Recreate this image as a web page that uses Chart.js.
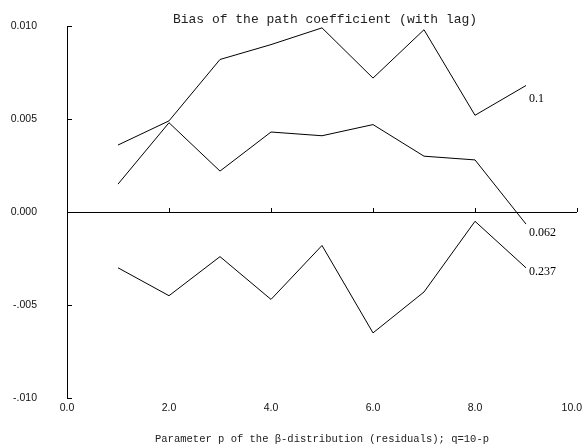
<!DOCTYPE html>
<html lang="en">
<head>
  <meta charset="UTF-8"/>
  <title>Bias of the path coefficient (with lag)</title>
  <script src="https://cdn.jsdelivr.net/npm/chart.js"></script>
  <style>
    body {
      margin: 0;
      background: #fff;
    }
    .wrap {
      width: 584px;
      height: 448px;
      position: relative;
    }
  </style>
</head>
<body>
  <div class="wrap"><canvas id="biasChart"></canvas></div>

  <script>
    // x positions (parameter p)
    const pValues = [1, 2, 3, 4, 5, 6, 7, 8, 9];

    // bias per series
    const bias01 = [0.0036, 0.0049, 0.0082, 0.0090, 0.0099, 0.0072, 0.0098, 0.0052, 0.0068];
    const bias062 = [0.0015, 0.0048, 0.0022, 0.0043, 0.0041, 0.0047, 0.0030, 0.0028, -0.00065];
    const bias237 = [-0.0030, -0.0045, -0.0024, -0.0047, -0.0018, -0.0065, -0.0043, -0.0005, -0.0030];

    const seriesNames = ['0.1', '0.062', '0.237'];

    const xTickLabels = ['0.0', '2.0', '4.0', '6.0', '8.0', '10.0'];
    const yTickLabels = ['-.010', '-.005', '0.000', '0.005', '0.010'];

    const chartTitle = 'Bias of the path coefficient (with lag)';
    const xTitle = 'Parameter p of the \u03b2-distribution (residuals); q=10-p';

    // vertical nudge of the end labels
    const labelDy = [13, 9, 4];

    const toPoints = vals => pValues.map((p, i) => ({ x: p, y: vals[i] }));

    const lineStyle = {
      borderColor: '#000',
      borderWidth: 1,
      pointRadius: 0,
      tension: 0,
      fill: false
    };

    const data = {
      datasets: [
        { label: seriesNames[0], data: toPoints(bias01), ...lineStyle },
        { label: seriesNames[1], data: toPoints(bias062), ...lineStyle },
        { label: seriesNames[2], data: toPoints(bias237), ...lineStyle }
      ]
    };

    const monoFont = '"Liberation Mono", "Courier New", monospace';
    const sansFont = '"Liberation Sans", Arial, sans-serif';
    const tickFont = { family: sansFont, size: 10.5 };

    // inward tick marks, zero axis ticks, x labels, title and end-of-line labels
    const extras = {
      id: 'extras',
      afterDatasetsDraw(chart) {
        const { ctx, scales: { x, y }, chartArea, width } = chart;
        const zeroY = y.getPixelForValue(0);
        ctx.save();
        ctx.strokeStyle = '#000';
        ctx.lineWidth = 1;
        ctx.beginPath();
        y.ticks.forEach(t => {
          const py = Math.round(y.getPixelForValue(t.value)) + 0.5;
          ctx.moveTo(chartArea.left, py);
          ctx.lineTo(chartArea.left + 5, py);
        });
        x.ticks.forEach(t => {
          const px = Math.round(x.getPixelForValue(t.value)) + 0.5;
          ctx.moveTo(px, zeroY);
          ctx.lineTo(px, zeroY - 4);
        });
        ctx.stroke();

        // x tick labels, kept inside the canvas
        ctx.fillStyle = '#111';
        ctx.font = '10.5px ' + sansFont;
        ctx.textAlign = 'center';
        ctx.textBaseline = 'middle';
        x.ticks.forEach((t, i) => {
          const txt = xTickLabels[i];
          const half = ctx.measureText(txt).width / 2;
          const px = Math.min(x.getPixelForValue(t.value), width - half - 2);
          ctx.fillText(txt, px, chartArea.bottom + 10);
        });

        ctx.fillStyle = '#000';
        ctx.font = '12px "Liberation Serif", "Times New Roman", serif';
        ctx.textAlign = 'left';
        chart.data.datasets.forEach((ds, i) => {
          const pts = chart.getDatasetMeta(i).data;
          const last = pts[pts.length - 1];
          ctx.fillText(ds.label, last.x + 3, last.y + labelDy[i]);
        });

        ctx.fillStyle = '#222';
        ctx.font = '13px ' + monoFont;
        ctx.textAlign = 'center';
        ctx.fillText(chartTitle, (chartArea.left + chartArea.right) / 2 + 3, 20);
        ctx.restore();
      }
    };

    const config = {
      type: 'line',
      data: data,
      options: {
        responsive: true,
        maintainAspectRatio: false,
        animation: false,
        layout: { padding: { left: 0, right: 7, top: 26, bottom: 0 } },
        plugins: {
          legend: { display: false },
          tooltip: { enabled: false },
          title: { display: false }
        },
        scales: {
          x: {
            type: 'linear',
            min: 0,
            max: 10,
            ticks: {
              stepSize: 2,
              display: false
            },
            grid: { display: false, drawTicks: false },
            border: { display: false },
            title: {
              display: true,
              text: xTitle,
              color: '#222',
              font: { family: monoFont, size: 10.5 },
              padding: { top: 0, bottom: 2 }
            },
            afterFit: s => {
              s.height = 50;
              s.paddingLeft = 0;
              s.paddingRight = 0;
            }
          },
          y: {
            min: -0.01,
            max: 0.01,
            ticks: {
              stepSize: 0.005,
              color: '#111',
              font: tickFont,
              padding: 30,
              callback: (v, i) => yTickLabels[i]
            },
            grid: {
              drawTicks: false,
              color: c => (c.tick && c.tick.value === 0 ? '#000' : 'rgba(0,0,0,0)'),
              lineWidth: 1
            },
            border: { display: true, color: '#000', width: 1 },
            afterFit: s => {
              s.width = 67;
              s.paddingTop = 0;
              s.paddingBottom = 0;
            }
          }
        }
      },
      plugins: [extras]
    };

    new Chart(document.getElementById('biasChart'), config);
  </script>
</body>
</html>
